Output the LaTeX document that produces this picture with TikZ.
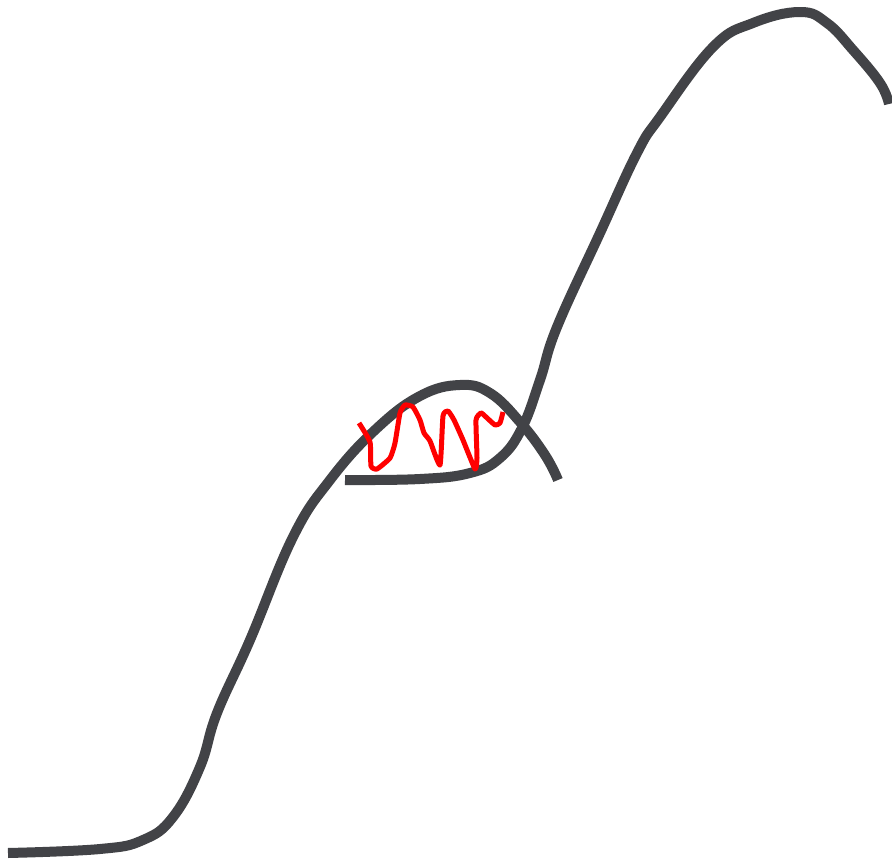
\documentclass[tikz,border=0pt]{standalone}
\begin{document}
\begin{tikzpicture}[x=1pt,y=-1pt,
  curve/.style={draw=curvegray,line width=10pt,line join=round},
  zig/.style={draw=red,line width=5pt,line join=round}]
\definecolor{curvegray}{HTML}{424347}
\useasboundingbox (0,0) rectangle (892,861);
% left rising curve with bump
\draw[curve] plot[smooth,tension=0.7] coordinates {
  (8,853) (100,849) (143,840) (173,817) (200,767) (217,713) (250,640)
  (293,537) (330,480) (375,430) (420,396) (460,385) (490,393) (520,422)
  (545,455) (558,480)};
% right curve from the inner line up to the peak
\draw[curve] plot[smooth,tension=0.7] coordinates {
  (345,480) (420,479) (470,473) (500,458) (522,428) (540,380) (557,327)
  (600,233) (637,153) (660,117) (713,47) (753,23) (800,12) (827,23)
  (853,50) (880,83) (889,104)};
% red zigzag
\draw[zig] plot[smooth,tension=0.3] coordinates {
  (359,423) (370,442) (371,466) (377,469) (390,458) (395,443) (400,413)
  (405,405) (413,407) (420,420) (424,433) (430,441) (440,465) (443,416)
  (448,411) (454,420) (463,440) (475,469) (477,458) (476,420) (481,413)
  (486,417) (495,425) (500,423) (503,412)};
\end{tikzpicture}
\end{document}
